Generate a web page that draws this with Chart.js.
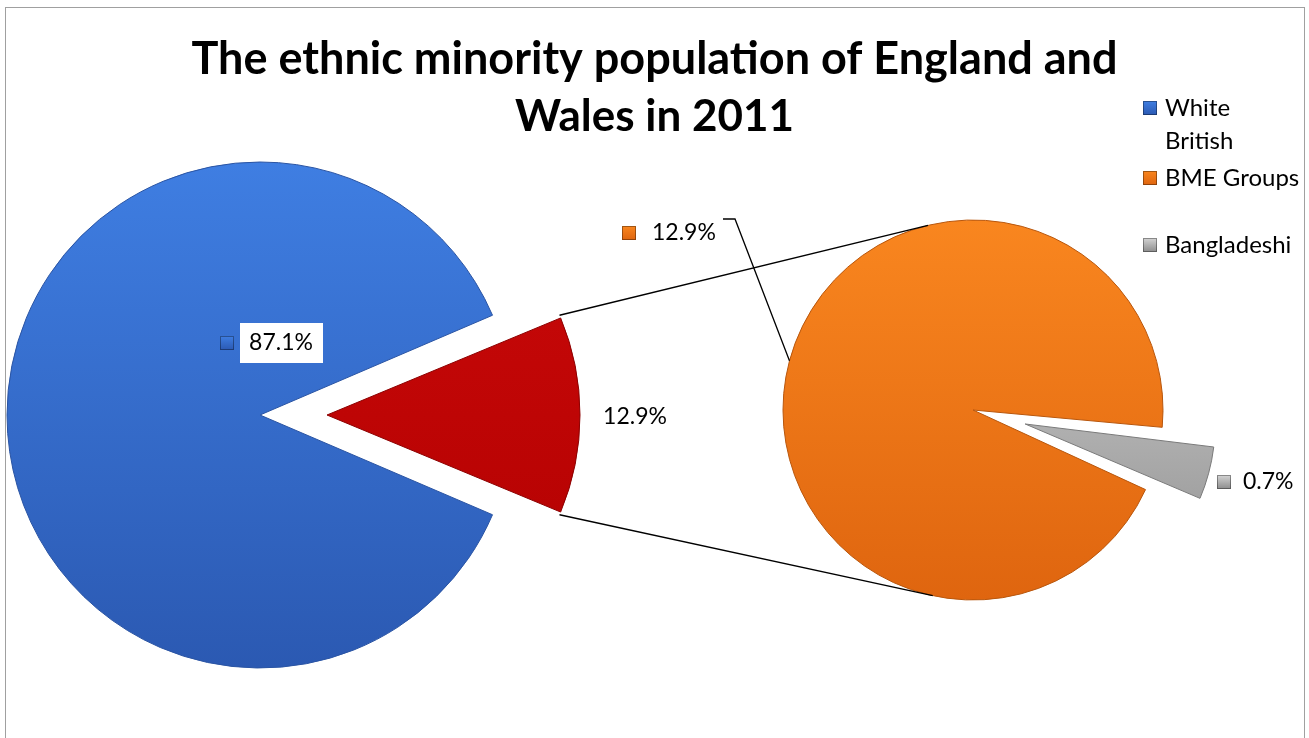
<!DOCTYPE html>
<html>
<head>
<meta charset="utf-8">
<script src="https://cdn.jsdelivr.net/npm/chart.js@4.4.0/dist/chart.umd.min.js"></script>
<style>
body { margin:0; background:#fff; }
#wrap { position:relative; width:1309px; height:738px; overflow:hidden; background:#fff; }
#frame { position:absolute; left:5px; top:7px; width:1298px; height:800px; border:1px solid #a0a0a0; }
.layer { position:absolute; left:0; top:0; width:1309px; height:738px; }
</style>
</head>
<body>
<div id="wrap">
  <div id="frame"></div>
  <div class="layer"><canvas id="mainpie"></canvas></div>
  <div class="layer"><canvas id="subpie"></canvas></div>
</div>
<script>
// the numbers
const titleLines = ["The ethnic minority population of England and", "Wales in 2011"]
const mainLabels = ["White British", "BME Groups"]
const mainValues = [87.1, 12.9]
const subLabels = ["BME Groups", "Bangladeshi"]
const subValues = [12.2, 0.7]
const legendLabels = [["White", "British"], ["BME Groups"], ["Bangladeshi"]]

const blue = ["#3f7ee2", "#2b59b2"]
const red = ["#cc0a0a", "#b00000"]
const orange = ["#f9861f", "#df650f"]
const grey = ["#d4d4d4", "#8c8c8c"]

const FONT = "Lato, 'Open Sans', sans-serif"

// vertical gradient across the whole pie, one colour pair per slice
function vgrad(cols, r) {
    return function(c) {
        let pair = cols[c.dataIndex] || cols[0]
        let chart = c.chart
        let area = chart.chartArea
        if (!area) return pair[0]
        let cy = (area.top + area.bottom) / 2
        let g = chart.ctx.createLinearGradient(0, cy - r, 0, cy + r)
        g.addColorStop(0, pair[0])
        g.addColorStop(1, pair[1])
        return g
    }
}

function sum(a) { return a.reduce((x, y) => x + y, 0) }

// chart.js makes small exploded slices bigger, this puts the radius back
const keepRadius = {
    id: "keepRadius",
    afterDatasetsUpdate(chart) {
        chart.getDatasetMeta(0).data.forEach(arc => {
            let o = (arc.options.offset || 0) / 4
            if (!o) return
            let fix = 1 - Math.sin(Math.min(Math.PI, arc.circumference))
            arc.outerRadius = arc.outerRadius - o * fix
        })
    }
}

// radius the slice is really painted at
function drawnRadius(arc) {
    let o = (arc.options.offset || 0) / 4
    return arc.outerRadius + o * (1 - Math.sin(Math.min(Math.PI, arc.circumference)))
}

// red slice centred on 3 o'clock
let mainRotation = 90 - 360 * (mainValues[0] + mainValues[1] / 2) / sum(mainValues)
// grey slice pointing a bit below 3 o'clock
let subRotation = 105 - 360 * (subValues[0] + subValues[1] / 2) / sum(subValues)

let mainChart = new Chart(document.getElementById("mainpie"), {
    type: "pie",
    data: {
        labels: mainLabels,
        datasets: [{
            data: mainValues,
            backgroundColor: vgrad([blue, red], 253),
            borderColor: ["#2a54a3", "#8c0000"],
            borderWidth: 1,
            offset: [0, 67 * 4]
        }]
    },
    options: {
        responsive: true,
        maintainAspectRatio: false,
        animation: false,
        events: [],
        radius: 253,
        rotation: mainRotation,
        layout: { padding: { left: 0, right: 789, top: 92, bottom: 0 } },
        plugins: { legend: { display: false }, tooltip: { enabled: false } }
    },
    plugins: [keepRadius]
})

function marker(ctx, x, y, cols) {
    let g = ctx.createLinearGradient(0, y - 7, 0, y + 7)
    g.addColorStop(0, cols[0])
    g.addColorStop(1, cols[1])
    ctx.fillStyle = g
    ctx.fillRect(x - 7, y - 7, 14, 14)
    ctx.strokeStyle = "rgba(0,0,0,0.35)"
    ctx.lineWidth = 1
    ctx.strokeRect(x - 6.5, y - 6.5, 13, 13)
    ctx.fillStyle = "#000"
}

// title, legend, labels and the connecting lines
const decorations = {
    id: "decorations",
    afterDraw(chart) {
        let ctx = chart.ctx
        let redArc = mainChart.getDatasetMeta(0).data[1]
        let blueArc = mainChart.getDatasetMeta(0).data[0]
        let orangeArc = chart.getDatasetMeta(0).data[0]
        ctx.save()

        // lines from the red slice to the second pie
        let mid = (redArc.startAngle + redArc.endAngle) / 2
        let t = redArc.options.offset / 4
        let rx = redArc.x + Math.cos(mid) * t
        let ry = redArc.y + Math.sin(mid) * t
        let rr = drawnRadius(redArc)
        let cx = orangeArc.x, cy = orangeArc.y, R = orangeArc.outerRadius
        ctx.strokeStyle = "#000"
        ctx.lineWidth = 1.3
        ;[[redArc.startAngle, 1], [redArc.endAngle, -1]].forEach(([a, side]) => {
            let px = rx + Math.cos(a) * rr
            let py = ry + Math.sin(a) * rr
            let d = Math.hypot(cx - px, cy - py)
            let dir = Math.atan2(py - cy, px - cx)
            let ta = dir + side * Math.acos(R / d)
            ctx.beginPath()
            ctx.moveTo(px, py)
            ctx.lineTo(cx + Math.cos(ta) * R, cy + Math.sin(ta) * R)
            ctx.stroke()
        })

        // leader line of the orange label
        let om = (orangeArc.startAngle + orangeArc.endAngle) / 2
        ctx.beginPath()
        ctx.moveTo(cx - 250, cy - 191)
        ctx.lineTo(cx - 238, cy - 191)
        ctx.lineTo(cx + Math.cos(om) * R, cy + Math.sin(om) * R)
        ctx.stroke()

        // title
        ctx.fillStyle = "#000"
        ctx.textAlign = "center"
        ctx.textBaseline = "alphabetic"
        ctx.font = "bold 45px " + FONT
        ctx.fillText(titleLines[0], 654.5, 74)
        ctx.font = "bold 44px " + FONT
        ctx.fillText(titleLines[1], 654.5, 131)

        // legend
        ctx.font = "24px " + FONT
        ctx.textAlign = "left"
        ctx.textBaseline = "middle"
        let legendCols = [blue, orange, grey]
        let legendY = [108, 178, 245]
        legendLabels.forEach((lines, i) => {
            marker(ctx, 1150, legendY[i], legendCols[i])
            lines.forEach((s, j) => ctx.fillText(s, 1165, legendY[i] + j * 33))
        })

        // data labels
        ctx.font = "23px " + FONT
        let bx = blueArc.x + 21, by = blueArc.y - 72
        ctx.fillStyle = "#fff"
        ctx.fillRect(bx - 41, by - 20, 83, 40)
        marker(ctx, bx - 54, by, blue)
        ctx.textAlign = "center"
        ctx.fillText(mainValues[0].toFixed(1) + "%", bx, by)

        ctx.fillText(mainValues[1].toFixed(1) + "%", redArc.x + 375, redArc.y + 2)

        ctx.textAlign = "left"
        marker(ctx, cx - 344, cy - 177, orange)
        ctx.fillText(sum(subValues).toFixed(1) + "%", cx - 321, cy - 177)

        marker(ctx, cx + 251, cy + 72, grey)
        ctx.fillText(subValues[1].toFixed(1) + "%", cx + 270, cy + 72)

        ctx.restore()
    }
}

let subChart = new Chart(document.getElementById("subpie"), {
    type: "pie",
    data: {
        labels: subLabels,
        datasets: [{
            data: subValues,
            backgroundColor: vgrad([orange, grey], 190),
            borderColor: ["#b8560c", "#7a7a7a"],
            borderWidth: 1,
            offset: [0, 54 * 4]
        }]
    },
    options: {
        responsive: true,
        maintainAspectRatio: false,
        animation: false,
        events: [],
        radius: 190,
        rotation: subRotation,
        layout: { padding: { left: 637, right: 0, top: 82, bottom: 0 } },
        plugins: { legend: { display: false }, tooltip: { enabled: false } }
    },
    plugins: [keepRadius, decorations]
})
</script>
</body>
</html>
